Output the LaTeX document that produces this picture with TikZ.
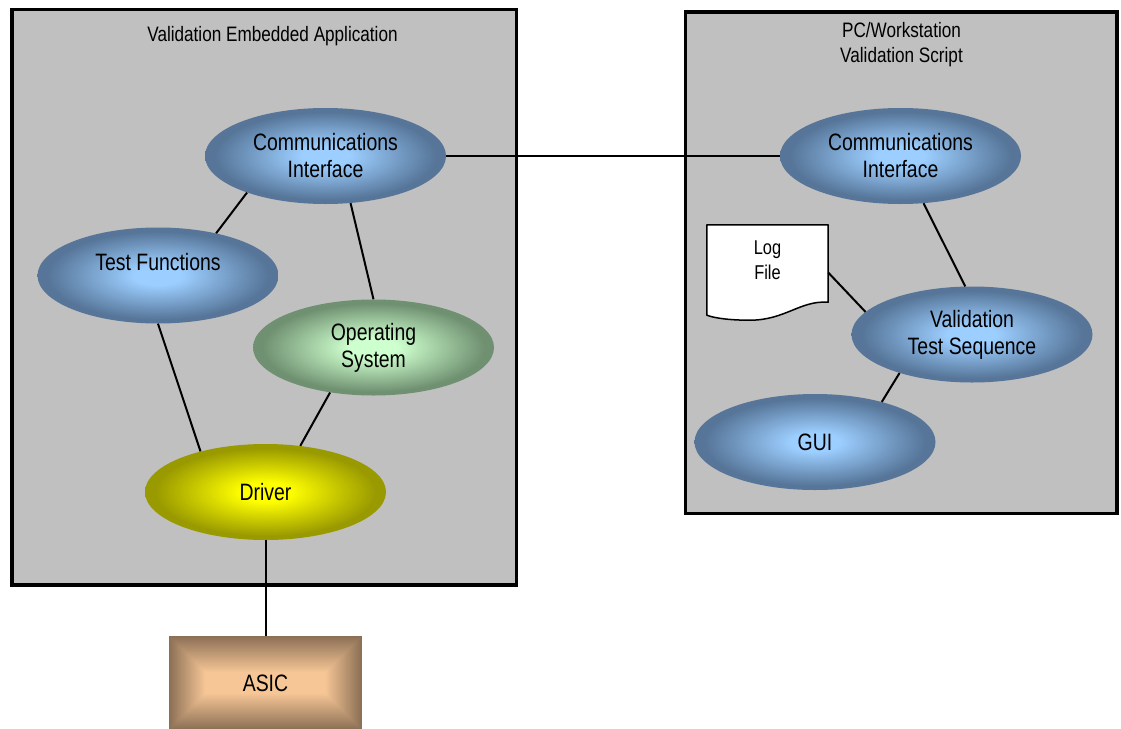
\documentclass[tikz,border=0pt]{standalone}
\usepackage{fontspec}
\setmainfont{Liberation Sans}[FakeStretch=0.82]
\usetikzlibrary{shapes.geometric,calc}

\definecolor{panelgrey}{RGB}{192,192,192}
\definecolor{blueIn}{RGB}{156,206,255}
\definecolor{blueOut}{RGB}{86,117,152}
\definecolor{greenIn}{RGB}{206,255,206}
\definecolor{greenOut}{RGB}{112,145,113}
\definecolor{yellowIn}{RGB}{255,255,0}
\definecolor{yellowOut}{RGB}{153,153,0}
\definecolor{asicIn}{RGB}{246,198,150}
\definecolor{asicOut}{RGB}{140,112,86}

% elliptical glows: bright centre fading to the rim
\pgfdeclareradialshading{blueball}{\pgfpoint{0bp}{0bp}}{color(0bp)=(blueIn); color(5bp)=(blueIn); color(23bp)=(blueOut); color(25bp)=(blueOut); color(50bp)=(blueOut)}
\pgfdeclareradialshading{greenball}{\pgfpoint{0bp}{0bp}}{color(0bp)=(greenIn); color(5bp)=(greenIn); color(23bp)=(greenOut); color(25bp)=(greenOut); color(50bp)=(greenOut)}
\pgfdeclareradialshading{yellowball}{\pgfpoint{0bp}{0bp}}{color(0bp)=(yellowIn); color(5bp)=(yellowIn); color(23bp)=(yellowOut); color(25bp)=(yellowOut); color(50bp)=(yellowOut)}

\newcommand\bubblefont{\fontsize{23.7}{27}\selectfont}
\newcommand\paneltitlefont{\fontsize{20.9}{25}\selectfont}
\newcommand\sheetfont{\fontsize{20}{25}\selectfont}

\pgfdeclarelayer{panels}
\pgfdeclarelayer{sheets}
\pgfsetlayers{panels,sheets,main}

\tikzset{
  bubble/.style={ellipse, minimum width=241pt, minimum height=96pt, inner sep=0pt,
                 align=center, font=\bubblefont, shade},
  bluebubble/.style={bubble, shading=blueball},
  greenbubble/.style={bubble, shading=greenball},
  yellowbubble/.style={bubble, shading=yellowball},
  panel/.style={fill=panelgrey, draw=black, line width=3.5pt},
  paneltitle/.style={font=\paneltitlefont, align=center, inner sep=0pt},
  link/.style={draw=black, line width=2pt},
  sheet/.style={fill=white, draw=black, line width=1.5pt, line join=round},
}

\begin{document}
\begin{tikzpicture}[x=1pt, y=-1pt]
\useasboundingbox (0,0) rectangle (1121,728);

% the two panels
\begin{pgfonlayer}{panels}
  \draw[panel] (12,9.5) rectangle (516.5,585);
  \draw[panel] (685.5,12) rectangle (1117,513.7);
\end{pgfonlayer}
\node[paneltitle, anchor=base] (ltitle) at (272.5,41) {Validation Embedded Application};
\node[paneltitle] (rtitle) at (901.5,45) {PC/Workstation\\Validation Script};

% embedded application
\node[bluebubble]   (cL)  at (325.5,156)  {Communications\\Interface};
\node[bluebubble]   (tf)  at (158,275.5)  {Test Functions\\\mbox{}};
\node[greenbubble]  (os)  at (373.5,347.5) {Operating\\System};
\node[yellowbubble] (drv) at (265.5,492)  {Driver};

% hardware block with a pyramid-style gradient
\node[rectangle, minimum width=193pt, minimum height=94pt, inner sep=0pt,
      font=\bubblefont,
      path picture={
        \foreach \i in {0,...,40}{
          \pgfmathtruncatemacro\mixp{min(100,100*\i/36)}
          \fill[asicIn!\mixp!asicOut]
            ($(path picture bounding box.north west)+(\i,\i)$) rectangle
            ($(path picture bounding box.south east)+(-\i,-\i)$);
        }
      }] (asic) at (265.5,683) {ASIC};

% workstation script
\node[bluebubble] (cR)  at (900.5,156) {Communications\\Interface};
\node[bluebubble] (vts) at (972,334.5) {Validation\\Test Sequence};
\node[bluebubble] (gui) at (815,442)   {GUI};

% log file document
\node[rectangle, minimum width=121pt, minimum height=95pt, inner sep=0pt,
      align=center, font=\sheetfont] (log) at (767.5,272.5) {Log\\File\\\mbox{}};
\begin{pgfonlayer}{sheets}
  \draw[sheet] (log.north west) -- (log.north east) -- ($(log.south east)+(0,-18)$)
    .. controls ($(log.south east)+(-28,-20)$) and ($(log.south east)+(-43,0)$) .. ($(log.south west)+(43,0)$)
    .. controls ($(log.south west)+(23,0)$) and ($(log.south west)+(8,-2)$) .. ($(log.south west)+(0,-5)$)
    -- cycle;
\end{pgfonlayer}

% connectors
\draw[link] (cL.east) -- (cR.west);
\draw[link] (cL.205) -- (tf.36);
\draw[link] (cL.298) -- (os.north);
\draw[link] (tf.south) -- (drv.148);
\draw[link] (os.226) -- (drv.53);
\draw[link] (drv.south) -- (asic.north);
\draw[link] (cR.296) -- (vts.98);
\draw[link] (log.east) -- (vts.168);
\draw[link] (vts.208) -- (gui.31);
\end{tikzpicture}
\end{document}
